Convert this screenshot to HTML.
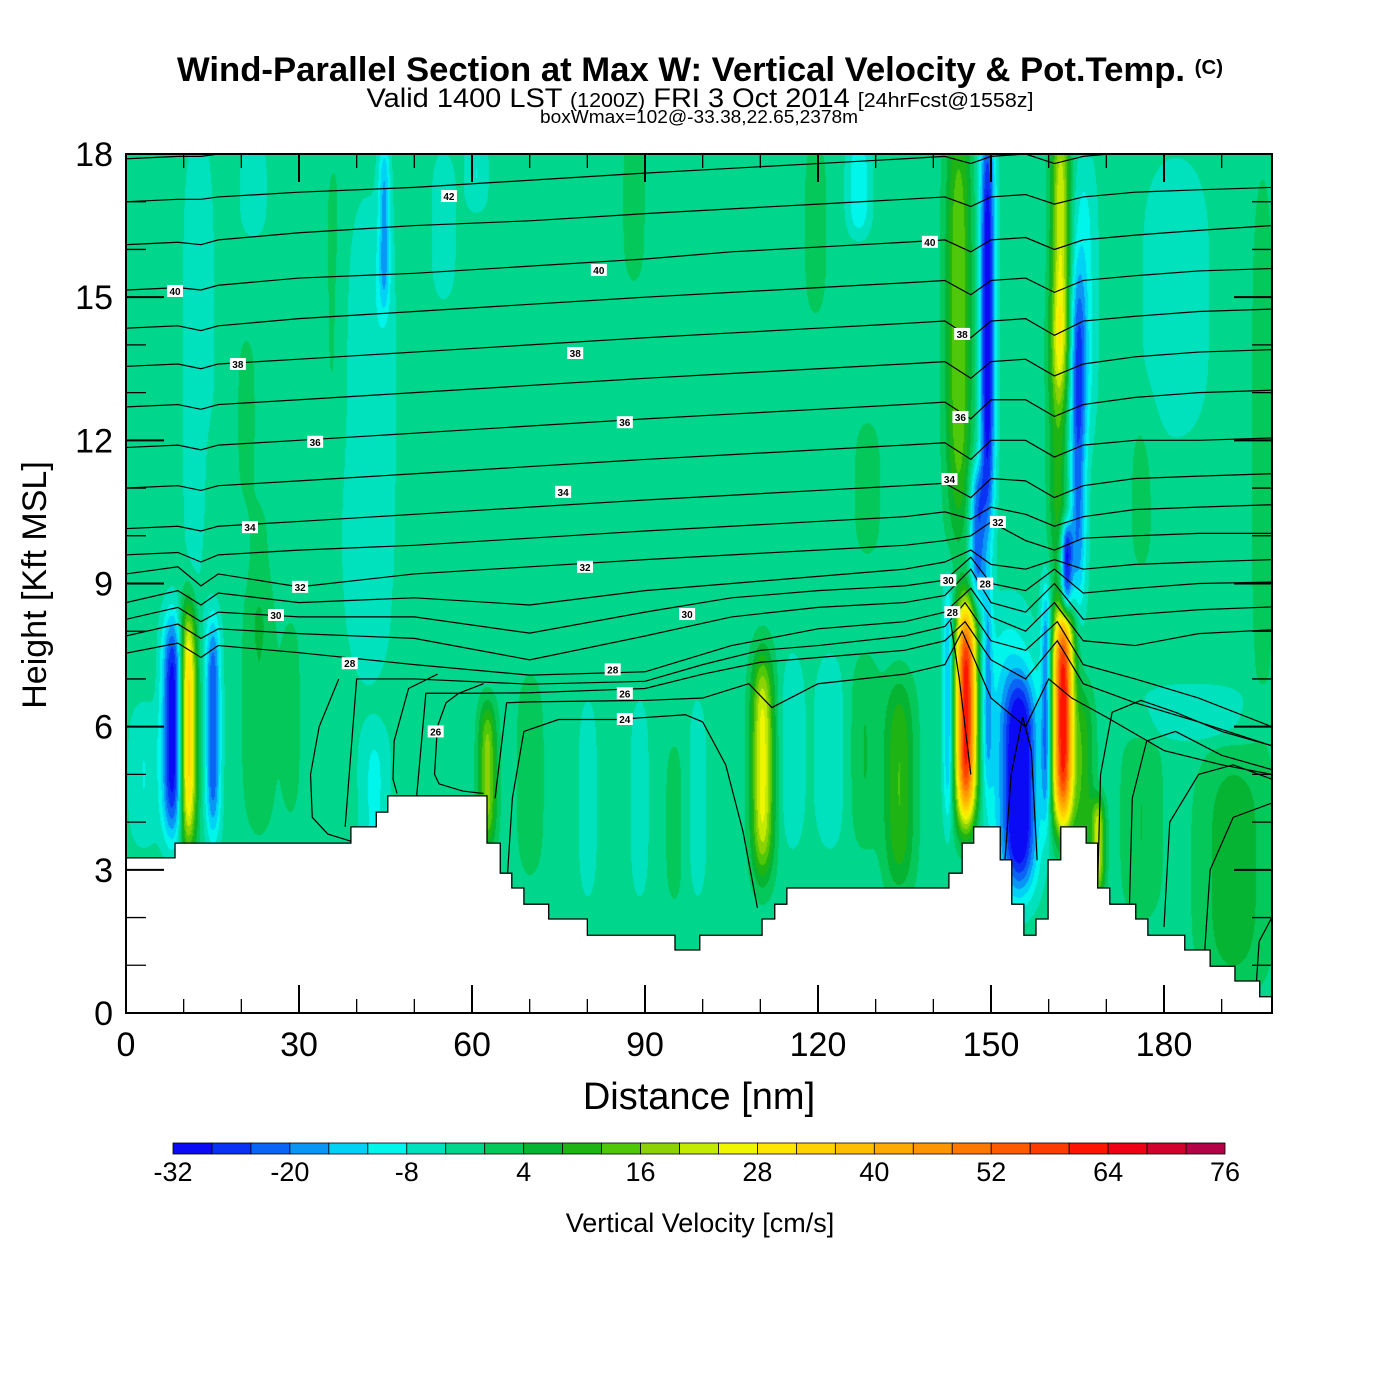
<!DOCTYPE html>
<html><head><meta charset="utf-8"><style>
html,body{margin:0;padding:0;background:#fff;width:1400px;height:1400px;overflow:hidden;font-family:"Liberation Sans",Arial,sans-serif}
#wrap{position:relative;width:1400px;height:1400px}
canvas{position:absolute;left:126px;top:154px}
svg{position:absolute;left:0;top:0}
</style></head><body><div id="wrap">
<canvas id="field" width="1146" height="859"></canvas>
<svg id="svg" width="1400" height="1400">
<text x="700" y="81" text-anchor="middle" font-size="34" font-weight="bold" textLength="1046" lengthAdjust="spacingAndGlyphs">Wind-Parallel Section at Max W: Vertical Velocity &amp; Pot.Temp. <tspan font-size="20" dy="-7">(C)</tspan></text>
<text x="700" y="107" text-anchor="middle" font-size="27" textLength="667" lengthAdjust="spacingAndGlyphs">Valid 1400 LST <tspan font-size="20">(1200Z)</tspan> FRI 3 Oct 2014 <tspan font-size="20">[24hrFcst@1558z]</tspan></text>
<text x="699" y="123" text-anchor="middle" font-size="18" textLength="318" lengthAdjust="spacingAndGlyphs">boxWmax=102@-33.38,22.65,2378m</text>
<g id="contours"></g>
<g id="terrain"></g>
<g id="clabels"></g>
<g id="axes"></g>
<text x="699" y="1109" text-anchor="middle" font-size="38">Distance [nm]</text>
<text transform="translate(46,585) rotate(-90)" text-anchor="middle" font-size="34">Height [Kft MSL]</text>
<g id="cbar"></g>
<text x="700" y="1232" text-anchor="middle" font-size="27">Vertical Velocity [cm/s]</text>
</svg></div>
<script>
// ---------- data ----------
const binColors=["#0a0af5","#0a32f5","#0a64f5","#0a96f5","#00d2f5","#00f5eb","#00e1be","#00d78c","#05c85a","#05b432","#1eb414","#50c80a","#8cd205","#c3eb00","#f0f500","#ffe600","#ffd200","#ffbe00","#ffaa00","#ff9600","#ff7800","#ff5a00","#ff3c00","#ff1400","#f00014","#d2002d","#b40046"];
const cbarTicks=[-32,-20,-8,4,16,28,40,52,64,76];
const bgW=-2;
// vertical-velocity features: centre distance (nm), centre height (kft), half-width (nm), half-height (kft), peak (cm/s)
const blobX=[10.7,8.0,15.0,23,28.5,12.5,42,44.7,36,20.8,14.4,23,43,22,60.7,55,88,
 62.6,70,80,95,89,99,110.3,115.5,128,134,122,119.5,127,128.5,
 145.6,142.5,149.3,155,153,162.4,168.5,166,159.5,
 144.3,149.3,147.5,162,161.5,165,163,166,182,176,197,192,185,176,43,3];
const blobY=[6.0,6.0,6.0,6.3,6.2,13.5,12,16.5,15,12.5,10.5,9.3,9.8,17.3,17.6,16.5,17,
 5.0,5,4.5,4,4.5,4.5,5.2,5.5,5.5,4.8,5.5,16.5,17.3,11,
 6.3,6.5,7.0,4.8,5.5,6.2,3.5,5,6.5,
 14.5,14.5,10,16,12,12,9.3,15,15,11,12,3,6.3,4,4.5,5];
const blobW=[1.4,1.8,1.3,2.8,1.6,2.6,4.5,1.0,2.2,2.2,2.0,2.2,2.0,2.2,2.0,2.0,2.2,
 1.5,2.8,1.5,2.2,1.5,1.5,1.9,2.0,2.6,2.6,2.6,2.2,2.0,2.6,
 1.8,0.9,0.9,2.8,4.5,1.8,1.1,1.8,0.9,
 2.2,1.3,1.3,1.6,1.6,1.4,1.0,2.2,6,2.6,2.2,6,9,3.5,2.6,2.6];
const blobH=[2.5,2.3,2.3,2.5,2,5,5,1.8,3.5,2,2,1.5,1.5,1,0.8,1.5,1.8,
 1.5,2.3,2,2,2,2,2.3,2,2,2.2,2,2,1,1.5,
 2.3,2.5,2.3,2.2,3,2.3,1,1.8,2.5,
 4.5,4.5,1.5,3,3,3.5,1,3,3,2,6,2.5,0.6,2,1.5,1.5];
const blobPeak=[38,-30,-22,6,5,-6,-6,-14,3,3,3,3,3,-6,-6,-6,4,
 20,4,-6,3,-6,-6,28,-6,6,14,-6,4,-10,4,
 66,-16,-12,-28,-10,66,24,12,-20,
 18,-30,-20,26,12,-20,-28,-8,-5,3,4,9,-6,6,-7,-6];
// terrain steps (nm, kft)
const terrX=[0,8.5,39,43.4,45.4,62.6,64.9,66.9,69,73.3,80,95.2,99.5,110.3,112.5,114.6,142.7,145,147,151.6,153.6,155.7,157.8,159.9,162.1,166.5,168.5,170.6,175.1,177.2,181.5,183.6,188,192.3,196.6];
const terrH=[3.25,3.56,3.9,4.21,4.55,3.56,2.93,2.62,2.28,1.97,1.63,1.32,1.63,1.97,2.28,2.62,2.93,3.56,3.9,3.21,2.28,1.63,1.97,3.21,3.9,3.56,2.62,2.28,1.97,1.63,1.63,1.32,0.98,0.67,0.34];
// potential temperature contours
const thX=[0,9,13,16,30,50,70,90,105,120,135,142,146.5,150,156,161,166,175,186,198.7];
const thLevels=[43,42,41,40,39,38,37,36,35,34,33,32,31,30,29,28];
const thH=[
[17.9,17.95,17.95,18,18.1,18.2,18.35,18.5,18.6,18.7,18.8,18.85,18.8,18.9,18.9,18.8,18.9,19,19,19],
[17.0,17.05,17.05,17.1,17.2,17.3,17.45,17.6,17.7,17.8,17.9,17.95,17.8,17.95,18,17.8,17.95,18.05,18.1,18.2],
[16.1,16.15,16.1,16.2,16.35,16.5,16.6,16.75,16.85,16.95,17.05,17.1,16.9,17.1,17.15,16.95,17.1,17.2,17.25,17.3],
[15.15,15.2,15.15,15.25,15.4,15.5,15.65,15.8,15.95,16.05,16.15,16.2,15.95,16.2,16.25,16.0,16.2,16.3,16.4,16.5],
[14.35,14.4,14.3,14.4,14.55,14.7,14.85,15.0,15.1,15.2,15.3,15.35,15.05,15.35,15.4,15.1,15.35,15.45,15.55,15.6],
[13.55,13.6,13.5,13.6,13.7,13.85,14.0,14.15,14.25,14.35,14.45,14.5,14.15,14.5,14.55,14.2,14.5,14.6,14.7,14.75],
[12.7,12.75,12.65,12.75,12.85,13.0,13.15,13.3,13.4,13.5,13.6,13.65,13.3,13.65,13.7,13.35,13.6,13.75,13.85,13.9],
[11.85,11.9,11.8,11.9,12.0,12.15,12.3,12.45,12.55,12.65,12.75,12.8,12.45,12.85,12.85,12.5,12.75,12.9,13.0,13.05],
[11.0,11.05,10.95,11.05,11.15,11.3,11.45,11.6,11.7,11.8,11.9,11.95,11.6,12.0,12.0,11.65,11.9,12.0,12.0,12.05],
[10.15,10.2,10.1,10.2,10.3,10.45,10.6,10.75,10.85,10.95,11.05,11.1,10.8,11.2,11.15,10.8,11.05,11.2,11.25,11.3],
[9.6,9.65,9.45,9.6,9.7,9.8,9.95,10.1,10.2,10.3,10.4,10.5,10.35,10.6,10.45,10.2,10.4,10.55,10.6,10.65],
[9.2,9.35,8.95,9.2,8.93,9.2,9.35,9.5,9.6,9.7,9.8,9.9,10.0,10.29,9.9,9.7,9.95,10.0,10.05,10.05],
[8.6,8.85,8.55,8.8,8.6,8.7,8.55,8.85,9.0,9.15,9.3,9.45,9.7,9.4,9.3,9.5,9.3,9.4,9.45,9.5],
[8.25,8.5,8.2,8.4,8.3,8.3,7.96,8.4,8.7,8.85,8.95,9.07,9.55,9.0,8.85,9.3,8.8,8.9,9.0,9.03],
[7.9,8.15,7.85,8.05,7.95,7.85,7.4,7.9,8.3,8.5,8.6,8.75,9.3,8.6,8.4,9.0,8.25,8.35,8.45,8.51],
[7.54,7.75,7.45,7.7,7.55,7.3,7.08,7.15,7.7,8.05,8.2,8.4,8.9,8.3,8.0,8.6,7.8,7.7,7.95,8.03]];
// contour segments that meet the terrain (nm arrays / kft arrays)
const segX=[[38,40,50,70,90,100,110,120,135,142,145.5,150,156,161.5,166,175,186,198.7],
 [50,52,60,70,90,100,110,120,135,142,145.5,150,156,161.5,166,175,186,198.7],
 [64,66,70,90,100,108,112,120,135,142,145,150,156,160,164,170,180,190,198.7],
 [66,67,69,75,85,97,100,104,107,109.5],
 [36.9,33.5,32,32.3,35,39],[54,49,46.5,46.3,47],[62,57.7,55.5,54,53.5,54.3,58.4,62],
 [143,144.5,146.5],[152,153.5,155.5,157,158],[168.5,169,171,176,182,190,198.7],
 [174,174.5,177,182,190,198.7],[180,181,186,192,198.7],[187,188,192,198.7],[196,196.5,198.7]];
const segH=[[3.9,7.0,7.0,6.89,6.95,7.3,7.6,7.7,7.9,8.1,8.6,7.8,7.6,8.2,7.3,7.0,6.6,6.0],
 [4.0,6.7,6.7,6.71,6.8,7.1,7.35,7.45,7.6,7.8,8.2,7.4,7.0,7.8,6.9,6.5,6.1,5.6],
 [4.5,6.5,6.52,6.55,6.6,6.9,6.4,6.9,7.1,7.3,8.0,6.6,6.0,7.0,6.6,6.2,5.5,5.2,5.0],
 [2.6,4.5,5.9,6.15,6.15,6.25,6.1,5.2,3.8,2.2],
 [7.0,6.0,5.0,4.1,3.75,3.6],[7.1,6.8,5.7,4.9,4.6],[6.9,6.7,6.5,6.0,5.0,4.8,4.65,4.6],
 [8.2,7.0,5.0],[2.5,5.0,6.2,5.5,3.2],[2.7,5.0,6.3,6.55,6.3,5.9,5.6],
 [2.2,4.5,5.7,5.9,5.4,5.1],[1.8,4.0,5.0,5.2,4.9],[1.2,3.0,4.1,4.4],[0.6,1.5,2.0]];
const labVal=[42,40,40,40,38,38,38,36,36,36,34,34,34,32,32,32,30,30,30,28,28,28,28,26,26,24];
const labX=[56,8.5,82,139.4,19.4,77.9,145,32.8,86.5,144.7,21.5,75.8,142.8,30.2,79.6,151.2,26,97.3,142.6,38.8,84.4,149,143.3,86.5,53.7,86.5];
const labY=[17.12,15.13,15.57,16.16,13.6,13.83,14.23,11.97,12.38,12.49,10.18,10.92,11.19,8.93,9.35,10.29,8.34,8.36,9.07,7.33,7.2,9.0,8.4,6.7,5.9,6.16];
const xTicks=[0,30,60,90,120,150,180];
const yTicks=[0,3,6,9,12,15,18];
// ---------- scales ----------
const L=126,T=154,R=1272,B=1013;
const sx=d=>L+d*(1038/180), sy=h=>B-h*((B-T)/18);
const NS="http://www.w3.org/2000/svg";
function mk(tag,attrs,parent){const e=document.createElementNS(NS,tag);for(const k in attrs)e.setAttribute(k,attrs[k]);parent.appendChild(e);return e;}
// ---------- field ----------
(function(){
 const c=document.getElementById('field'),ctx=c.getContext('2d');
 const W=c.width,H=c.height,img=ctx.createImageData(W,H);
 const rgb=binColors.map(h=>[parseInt(h.slice(1,3),16),parseInt(h.slice(3,5),16),parseInt(h.slice(5,7),16)]);
 const n=blobX.length, pxPerNm=1038/180, pxPerK=(B-T)/18;
 const bx=[],by=[],bw=[],bh=[];
 for(let i=0;i<n;i++){bx.push(sx(blobX[i])-L);by.push(sy(blobY[i])-T);bw.push(blobW[i]*pxPerNm);bh.push(blobH[i]*pxPerK);}
 for(let y=0;y<H;y++){for(let x=0;x<W;x++){
  let v=bgW;
  for(let i=0;i<n;i++){const dx=(x-bx[i])/bw[i];if(dx>3.5||dx<-3.5)continue;const dy=(y-by[i])/bh[i];if(dy>1.8||dy<-1.8)continue;const d2=dy*dy;v+=blobPeak[i]*Math.exp(-dx*dx-d2*d2);}
  let k=Math.floor((v+32)/4);if(k<0)k=0;if(k>26)k=26;
  const o=(y*W+x)*4,cc=rgb[k];img.data[o]=cc[0];img.data[o+1]=cc[1];img.data[o+2]=cc[2];img.data[o+3]=255;}}
 ctx.putImageData(img,0,0);
})();
// ---------- contours ----------
const svg=document.getElementById('svg');
const defs=mk('defs',{},svg);const cp=mk('clipPath',{id:'pc'},defs);mk('rect',{x:L,y:T,width:R-L,height:B-T},cp);
const cg=document.getElementById('contours');cg.setAttribute('clip-path','url(#pc)');
thLevels.forEach((lv,j)=>{
 const p=mk('polyline',{points:thX.map((x,i)=>sx(x)+','+sy(thH[j][i])).join(' '),fill:'none',stroke:'#000','stroke-width':1.2},cg);
 
 
});
segX.forEach((xs,j)=>{
 const p=mk('polyline',{points:xs.map((x,i)=>sx(x)+','+sy(segH[j][i])).join(' '),fill:'none',stroke:'#000','stroke-width':1.2},cg);
 
 
});
// ---------- terrain ----------
(function(){
 const tg=document.getElementById('terrain');
 let pts=[[sx(0),sy(0)]];
 for(let i=0;i<terrX.length;i++){const x0=sx(terrX[i]),x1=i+1<terrX.length?sx(terrX[i+1]):R;pts.push([x0,sy(terrH[i])],[x1,sy(terrH[i])]);}
 pts.push([R,sy(0)]);
 const p=mk('polygon',{points:pts.map(a=>a.join(',')).join(' '),fill:'#fff',stroke:'#000','stroke-width':1.3},tg);
 
 
})();
// ---------- contour labels ----------
const lg=document.getElementById('clabels');
labVal.forEach((v,i)=>{
 const g=mk('g',{},lg);
 
 
 mk('rect',{x:sx(labX[i])-8,y:sy(labY[i])-6,width:16,height:12,fill:'#fff'},g);
 const t=mk('text',{x:sx(labX[i]),y:sy(labY[i])+4,'text-anchor':'middle','font-size':10,'font-weight':'bold'},g);t.textContent=v;
});
// ---------- axes ----------
const ag=document.getElementById('axes');
const frame=mk('rect',{x:L,y:T,width:R-L,height:B-T,fill:'none',stroke:'#000','stroke-width':2},ag);


for(let d=0;d<=198;d+=10){const maj=d%30===0,len=maj?28:14;const x=sx(d);
 mk('line',{x1:x,y1:B,x2:x,y2:B-len,stroke:'#000','stroke-width':maj?2:1.3},ag);
 mk('line',{x1:x,y1:T,x2:x,y2:T+len,stroke:'#000','stroke-width':maj?2:1.3},ag);}
for(let h=0;h<=18;h++){const maj=h%3===0,len=maj?38:20;const y=sy(h);
 mk('line',{x1:L,y1:y,x2:L+len,y2:y,stroke:'#000','stroke-width':maj?2:1.3},ag);
 mk('line',{x1:R,y1:y,x2:R-len,y2:y,stroke:'#000','stroke-width':maj?2:1.3},ag);}
xTicks.forEach(v=>{const t=mk('text',{x:sx(v),y:1056,'text-anchor':'middle','font-size':34},ag);t.textContent=v;
 
 });
yTicks.forEach(v=>{const t=mk('text',{x:113,y:sy(v)+12,'text-anchor':'end','font-size':34},ag);t.textContent=v;
 
 });
// ---------- colorbar ----------
const cb=document.getElementById('cbar');const cbL=173,cbR=1225,bw=(cbR-cbL)/binColors.length;
binColors.forEach((c,i)=>{const r=mk('rect',{x:cbL+i*bw,y:1143,width:bw,height:11,fill:c,stroke:'#000','stroke-width':0.8},cb);
 
 });
cbarTicks.forEach(v=>{const t=mk('text',{x:cbL+(v+32)/4*bw,y:1181,'text-anchor':'middle','font-size':27},cb);t.textContent=v;
 
 });
</script></body></html>
